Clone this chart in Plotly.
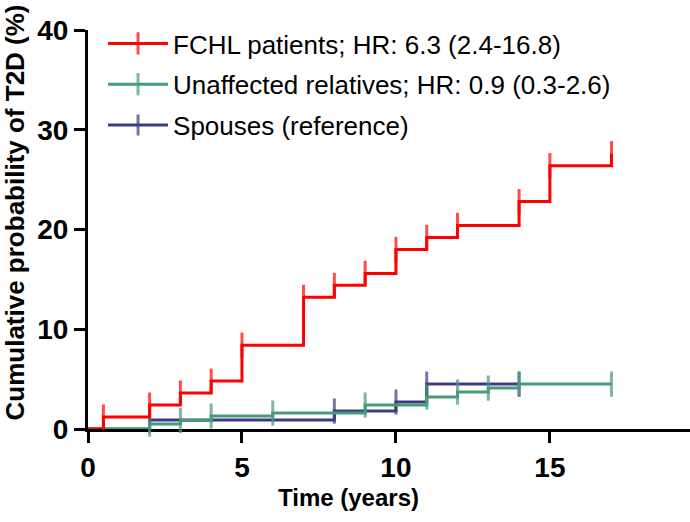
import plotly.graph_objects as go

# Kaplan-Meier style cumulative incidence (%) by follow-up time (years)
fchl_t = [0, 0.5, 2, 3, 4, 5, 7, 8, 9, 10, 11, 12, 14, 15, 17]
fchl_p = [0, 1.2, 2.4, 3.6, 4.8, 8.4, 13.2, 14.4, 15.6, 18.0, 19.2, 20.4, 22.8, 26.4, 27.6]

rel_t = [0, 2, 3, 4, 6, 9, 11, 12, 13, 14, 17]
rel_p = [0, 0.5, 0.85, 1.3, 1.6, 2.4, 3.2, 3.7, 4.1, 4.5, 4.5]

sp_t = [0, 2, 8, 10, 11, 14]
sp_p = [0, 0.9, 1.8, 2.7, 4.5, 4.5]

names = ["FCHL patients; HR: 6.3 (2.4-16.8)",
         "Unaffected relatives; HR: 0.9 (0.3-2.6)",
         "Spouses (reference)"]
colors = ["#FF0000", "#479A7B", "#3C3C84"]

x_ticks = [0, 5, 10, 15]
y_ticks = [0, 10, 20, 30, 40]

FONT = "Liberation Sans, Arial, sans-serif"

fig = go.Figure()
# drawing order: spouses (bottom), relatives, FCHL (top); legend order FCHL first
series = [(sp_t, sp_p, names[2], colors[2], 3),
          (rel_t, rel_p, names[1], colors[1], 2),
          (fchl_t, fchl_p, names[0], colors[0], 1)]
for t, p, n, c, rank in series:
    sizes = [0] + [18] * (len(t) - 1)
    fig.add_trace(go.Scatter(
        x=t, y=p, name=n, mode="lines+markers",
        line=dict(color=c, width=3, shape="hv"),
        marker=dict(symbol="line-ns", size=sizes, line=dict(color=c, width=3)),
        cliponaxis=False, legendgroup="g%d" % rank, legendrank=rank))

fig.update_layout(
    width=690, height=522,
    margin=dict(l=88, r=0, t=30, b=93, autoexpand=False),
    paper_bgcolor="white", plot_bgcolor="white",
    showlegend=True,
    legend=dict(x=0.025, y=1.025, xanchor="left", yanchor="top",
                traceorder="grouped", tracegroupgap=4, itemwidth=60,
                font=dict(family=FONT, size=26, color="black"),
                bgcolor="rgba(0,0,0,0)"),
    font=dict(family=FONT, color="black"),
)
fig.update_xaxes(range=[0, 19.55], tickvals=x_ticks, ticktext=[str(v) for v in x_ticks],
                 showline=True, linecolor="black", linewidth=3, ticks="outside",
                 ticklen=11, tickwidth=3, tickcolor="black", showgrid=False, zeroline=False,
                 tickfont=dict(family=FONT, size=28, color="black", weight="bold"),
                 layer="below traces")
fig.update_yaxes(range=[0, 40], tickvals=y_ticks, ticktext=[str(v) for v in y_ticks],
                 showline=True, linecolor="black", linewidth=3, ticks="outside",
                 ticklen=11, tickwidth=3, tickcolor="black", showgrid=False, zeroline=False,
                 tickfont=dict(family=FONT, size=28, color="black", weight="bold"),
                 layer="below traces")

fig.add_annotation(text="Time (years)", xref="paper", yref="paper",
                   x=(348 - 88) / 602, y=-(497 - 428.5) / 399, xanchor="center", yanchor="middle",
                   showarrow=False, font=dict(family=FONT, size=24, color="black", weight="bold"))
fig.add_annotation(text="Cumulative probability of T2D (%)", xref="paper", yref="paper",
                   x=-(88 - 15) / 602, y=(428.5 - 212) / 399, xanchor="center", yanchor="middle",
                   textangle=-90, showarrow=False,
                   font=dict(family=FONT, size=26, color="black", weight="bold"))

fig.write_html("out.html", config={"displayModeBar": False},
               post_script="document.body.style.margin='0';document.body.style.overflow='hidden';")
